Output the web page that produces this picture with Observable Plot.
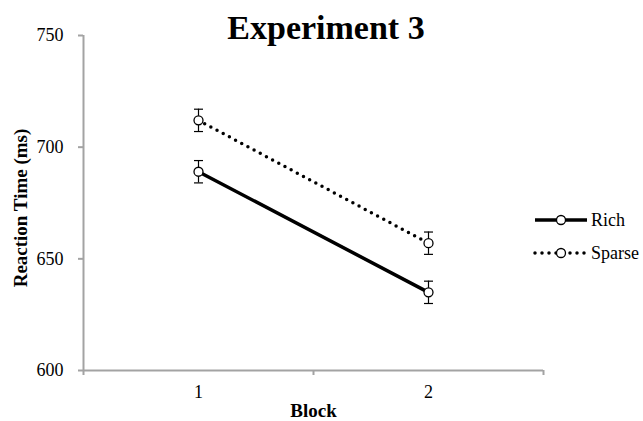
<!DOCTYPE html>
<html>
<head>
<meta charset="utf-8">
<script src="https://cdn.jsdelivr.net/npm/d3@7"></script>
<script src="https://cdn.jsdelivr.net/npm/@observablehq/plot@0.6"></script>
<style>
  html, body { margin: 0; padding: 0; background: #fff; }
  svg { display: block; }
  svg text { font-family: "Liberation Serif", "Times New Roman", serif; }
</style>
</head>
<body>
<div id="chart"></div>
<script>
// ---- data ----
const title = "Experiment 3";
const blocks = [1, 2];
const seriesNames = ["Rich", "Sparse"];
const richRT = [689, 635];
const sparseRT = [712, 657];
const richErr = [5, 5];
const sparseErr = [5, 5];
const yTicks = [600, 650, 700, 750];
const xLabel = "Block";
const yLabel = "Reaction Time (ms)";

const richRows = blocks.map((b, i) => ({block: b, rt: richRT[i], err: richErr[i], series: "Rich"}));
const sparseRows = blocks.map((b, i) => ({block: b, rt: sparseRT[i], err: sparseErr[i], series: "Sparse"}));
const allRows = richRows.concat(sparseRows);

const axisGray = "#a3a3a3";
const font = "Liberation Serif";

// horizontal cap symbol for error bars
const capSymbol = {
  draw(context, size) {
    const h = Math.sqrt(size / Math.PI);
    context.moveTo(-h, 0);
    context.lineTo(h, 0);
  }
};

const chart = Plot.plot({
  width: 643,
  height: 421,
  marginLeft: 83,
  marginRight: 100,
  marginTop: 35,
  marginBottom: 51,
  style: {fontFamily: font, fontSize: "18px", color: "#000", background: "#fff", overflow: "visible"},
  x: {domain: [blocks[0] - 0.5, blocks[blocks.length - 1] + 0.5]},
  y: {domain: [yTicks[0], yTicks[yTicks.length - 1]]},
  marks: [
    // axes lines
    Plot.ruleX([blocks[0] - 0.5], {stroke: axisGray, strokeWidth: 2}),
    Plot.ruleY([yTicks[0]], {stroke: axisGray, strokeWidth: 2}),
    // y axis
    Plot.axisY({ticks: yTicks, tickSize: 5, tickPadding: 15, stroke: axisGray, strokeWidth: 2, fill: "#000", fontSize: 18, fontFamily: font, label: null}),
    // x axis tick marks between categories
    Plot.axisX({ticks: [0.5, 1.5, 2.5], tickSize: 5, stroke: axisGray, strokeWidth: 2, tickFormat: () => "", label: null}),
    // x axis labels at categories
    Plot.axisX({ticks: blocks, tickSize: 0, tickPadding: 15, fill: "#000", fontSize: 18, fontFamily: font, tickFormat: d => String(d), label: null}),
    // axis titles
    Plot.text([yLabel], {frameAnchor: "left", textAnchor: "middle", lineAnchor: "middle", dx: -63, dy: 5, rotate: -90, fontWeight: "bold", fontSize: 19, fontFamily: font, fill: "#000"}),
    Plot.text([xLabel], {frameAnchor: "bottom", textAnchor: "middle", lineAnchor: "middle", dy: 40, fontWeight: "bold", fontSize: 19, fontFamily: font, fill: "#000"}),
    // lines
    Plot.line(richRows, {x: "block", y: "rt", stroke: "#000", strokeWidth: 3.5}),
    Plot.line(sparseRows, {x: "block", y: "rt", stroke: "#000", strokeWidth: 3.5, strokeDasharray: "0 7", strokeLinecap: "round"}),
    // error bars
    Plot.ruleX(allRows, {x: "block", y1: d => d.rt - d.err, y2: d => d.rt + d.err, stroke: "#000", strokeWidth: 1.2}),
    Plot.dot(allRows, {x: "block", y: d => d.rt - d.err, r: 4.5, symbol: capSymbol, fill: "none", stroke: "#000", strokeWidth: 1.2}),
    Plot.dot(allRows, {x: "block", y: d => d.rt + d.err, r: 4.5, symbol: capSymbol, fill: "none", stroke: "#000", strokeWidth: 1.2}),
    // markers
    Plot.dot(allRows, {x: "block", y: "rt", r: 4.5, fill: "#fff", stroke: "#000", strokeWidth: 1.3})
  ]
});

document.getElementById("chart").appendChild(chart);

// title and legend drawn into the same svg
const svg = d3.select(chart);
svg.append("text")
  .attr("x", 326).attr("y", 39)
  .attr("text-anchor", "middle")
  .attr("font-family", font)
  .attr("font-weight", "bold")
  .attr("font-size", 34)
  .attr("fill", "#000")
  .text(title);

const legend = svg.append("g");
const legendY = [220, 253];
seriesNames.forEach((name, i) => {
  const g = legend.append("g").attr("transform", `translate(0,${legendY[i]})`);
  const line = g.append("line").attr("x1", 535).attr("x2", 587).attr("y1", 0).attr("y2", 0).attr("stroke", "#000");
  if (name === "Rich") {
    line.attr("stroke-width", 3.5);
  } else {
    line.attr("stroke-width", 3.5).attr("stroke-dasharray", "0 7").attr("stroke-linecap", "round");
  }
  g.append("circle").attr("cx", 561).attr("cy", 0).attr("r", 4.5).attr("fill", "#fff").attr("stroke", "#000").attr("stroke-width", 1.3);
  g.append("text").attr("x", 591).attr("y", 0).attr("dy", "0.35em")
    .attr("text-anchor", "start")
    .attr("font-family", font).attr("font-size", 18).attr("fill", "#000").text(name);
});
</script>
</body>
</html>
